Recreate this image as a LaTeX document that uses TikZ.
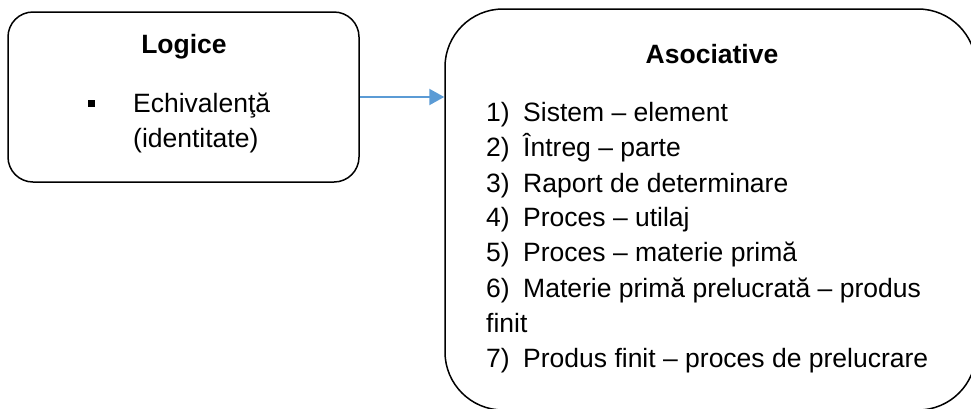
\documentclass[tikz,border=0pt]{standalone}
\usepackage{fontspec}
\setmainfont{Liberation Sans}
\usetikzlibrary{arrows.meta}
\definecolor{arrowblue}{HTML}{5B9BD5}
\tikzset{
  box/.style={draw=black, line width=1.5pt, minimum width=#1, inner sep=0pt},
  txt/.style={anchor=base west, inner sep=0pt, font=\fontsize{26.5}{32}\selectfont},
  ttl/.style={anchor=base, inner sep=0pt, font=\fontsize{26.5}{32}\selectfont\bfseries},
  conn/.style={draw=arrowblue, line width=2.2pt, -{Triangle[length=15pt,width=16pt]}}
}
\begin{document}
\begin{tikzpicture}[x=1pt,y=-1pt]
\useasboundingbox (0,0) rectangle (971,408);
\clip (0,0) rectangle (971,408);
% boxes
\node[box=351pt, minimum height=170pt, rounded corners=25pt] (logice) at (183.5,97) {};
\node[box=531pt, minimum height=401pt, rounded corners=58pt] (asoc) at (710.5,209.5) {};
% connector
\draw[conn] (logice.east) -- (logice.east -| asoc.west);
% left box text
\node[ttl] (tl) at (184,53) {Logice};
\node[fill=black, minimum size=7pt, inner sep=0pt] (bul) at (91.5,103.5) {};
\node[txt] (l1) at (133,112) {Echivalenţă};
\node[txt] (l2) at (133,147) {(identitate)};
% right box text
\node[ttl] (tr) at (712,63) {Asociative};
\foreach \n/\y/\t in {1/121/Sistem – element, 2/156/Întreg – parte, 3/192/Raport de determinare, 4/226/Proces – utilaj, 5/261/Proces – materie primă, 6/297/Materie primă prelucrată – produs, 7/367/Produs finit – proces de prelucrare}{
  \node[txt] (n\n) at (486,\y) {\n)};
  \node[txt] (r\n) at (523,\y) {\t};
}
\node[txt] (r6b) at (486,332) {finit};
\end{tikzpicture}
\end{document}
